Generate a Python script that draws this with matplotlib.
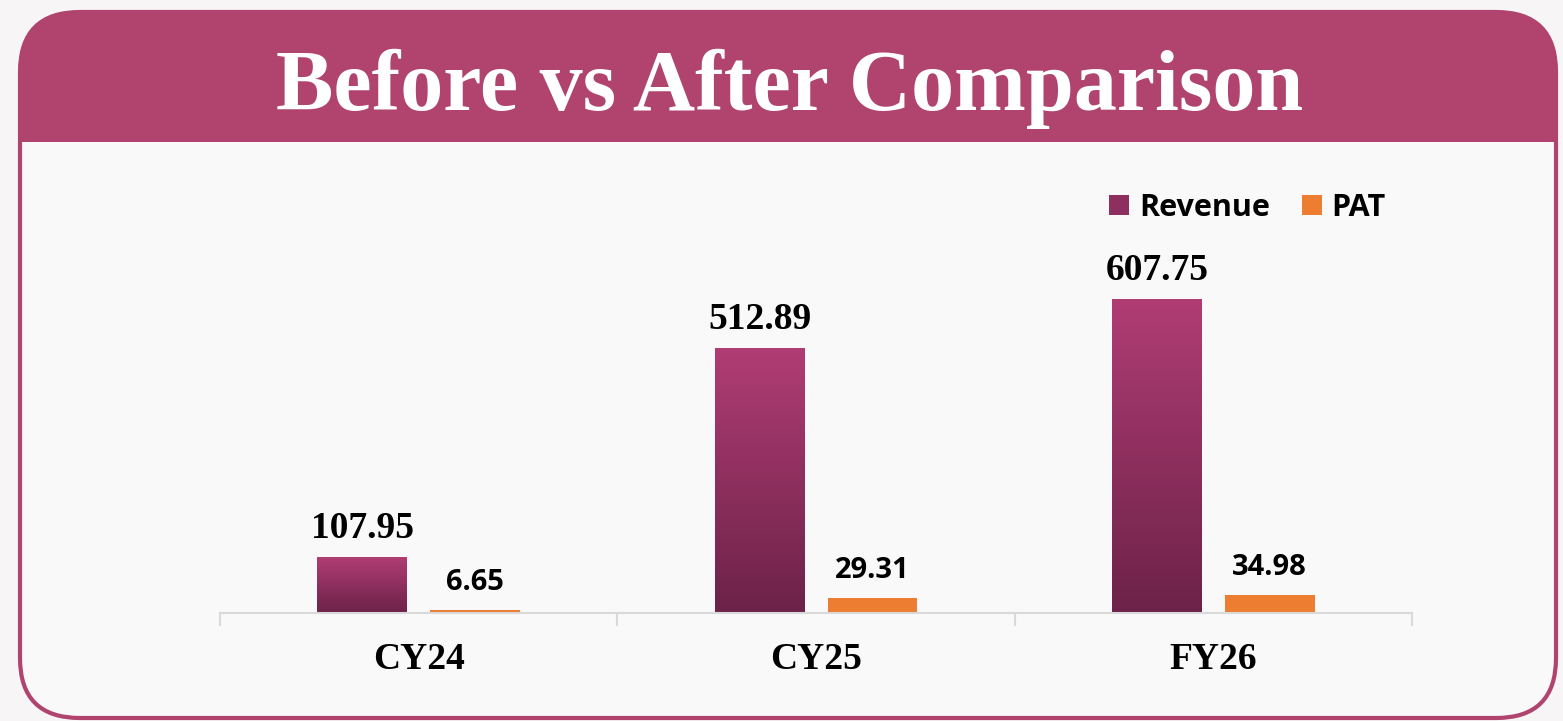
import numpy as np
import matplotlib
matplotlib.use("Agg")
import matplotlib.pyplot as plt
from matplotlib.patches import FancyBboxPatch, Rectangle, Patch

# chart data
categories = ["CY24", "CY25", "FY26"]
revenue = [107.95, 512.89, 607.75]
pat = [6.65, 29.31, 34.98]
series_names = ["Revenue", "PAT"]

# colours
frame_col = "#B0446F"
rev_top = np.array([176, 61, 116]) / 255
rev_bot = np.array([108, 34, 73]) / 255
pat_col = "#ED7D31"
axis_col = "#D9D9D9"
sans = "Open Sans"

fig = plt.figure(figsize=(15.63, 7.21), dpi=100)
fig.patch.set_facecolor("#F7F5F5")

# background layer in pixel coordinates
bg = fig.add_axes([0, 0, 1, 1], zorder=0)
bg.set_xlim(0, 1563)
bg.set_ylim(721, 0)
bg.axis("off")

frame = FancyBboxPatch((20, 12), 1536, 706, boxstyle="round,pad=0,rounding_size=60",
                       facecolor="#FAF9F9", edgecolor="none")
bg.add_patch(frame)

header = FancyBboxPatch((20, 12), 1536, 706, boxstyle="round,pad=0,rounding_size=60",
                        facecolor=frame_col, edgecolor="none")
bg.add_patch(header)
header.set_clip_path(Rectangle((0, 0), 1563, 142, transform=bg.transData))

border = FancyBboxPatch((20, 12), 1536, 706, boxstyle="round,pad=0,rounding_size=60",
                        facecolor="none", edgecolor=frame_col, lw=3)
bg.add_patch(border)

bg.text(790, 110, "Before vs After Comparison", color="white", ha="center", va="baseline",
        fontsize=62, fontweight="bold", family="Liberation Serif")

# main chart
ax = fig.add_axes([220 / 1563, 108 / 721, 1192 / 1563, 433 / 721], zorder=1)
ax.set_facecolor("none")

x = np.arange(len(categories))
off = 0.142
w = 0.226

rev_bars = ax.bar(x - off, revenue, w, color="none", edgecolor="none", zorder=2)
pat_bars = ax.bar(x + off, pat, w, color=pat_col, edgecolor="none", zorder=2)

# vertical gradient for the revenue bars
grad = np.linspace(0, 1, 256)[:, None, None]
grad_img = rev_top * (1 - grad) + rev_bot * grad
for b in rev_bars:
    x0, h, bw = b.get_x(), b.get_height(), b.get_width()
    im = ax.imshow(grad_img, extent=[x0, x0 + bw, 0, h], aspect="auto",
                   origin="upper", zorder=2, interpolation="bilinear")
    im.set_clip_path(b)

for b, v in zip(rev_bars, revenue):
    ax.annotate(f"{v:.2f}", (b.get_x() + b.get_width() / 2, b.get_height()),
                xytext=(0, 14), textcoords="offset points", ha="center", va="baseline",
                fontsize=27, fontweight="bold", family="Liberation Serif", color="black")
for b, v in zip(pat_bars, pat):
    ax.annotate(f"{v:.2f}", (b.get_x() + b.get_width() / 2, b.get_height()),
                xytext=(0, 14), textcoords="offset points", ha="center", va="baseline",
                fontsize=21, fontweight="bold", family=sans, color="black")

ax.set_xlim(-0.5, len(categories) - 0.5)
ax.set_ylim(0, 838)

for s in ["top", "left", "right"]:
    ax.spines[s].set_visible(False)
ax.spines["bottom"].set_color(axis_col)
ax.spines["bottom"].set_linewidth(1.5)
ax.set_yticks([])

ax.set_xticks(x)
ax.set_xticklabels(categories, fontsize=27, fontweight="bold", family="Liberation Serif")
ax.tick_params(axis="x", which="major", length=0, pad=21)
ax.set_xticks(np.arange(-0.5, len(categories)), minor=True)
ax.tick_params(axis="x", which="minor", length=9, width=1.5, color=axis_col)

handles = [Patch(facecolor=(rev_top + rev_bot) / 2), Patch(facecolor=pat_col)]
ax.legend(handles, series_names, loc="center right", ncol=2, frameon=False,
          bbox_to_anchor=(1386 / 1563, (721 - 208) / 721), bbox_transform=fig.transFigure,
          prop={"family": sans, "weight": "bold", "size": 22},
          handlelength=0.65, handleheight=0.65, handletextpad=0.33, columnspacing=1.05,
          borderpad=0, borderaxespad=0)

fig.savefig("out.png", dpi=100, facecolor=fig.get_facecolor())
